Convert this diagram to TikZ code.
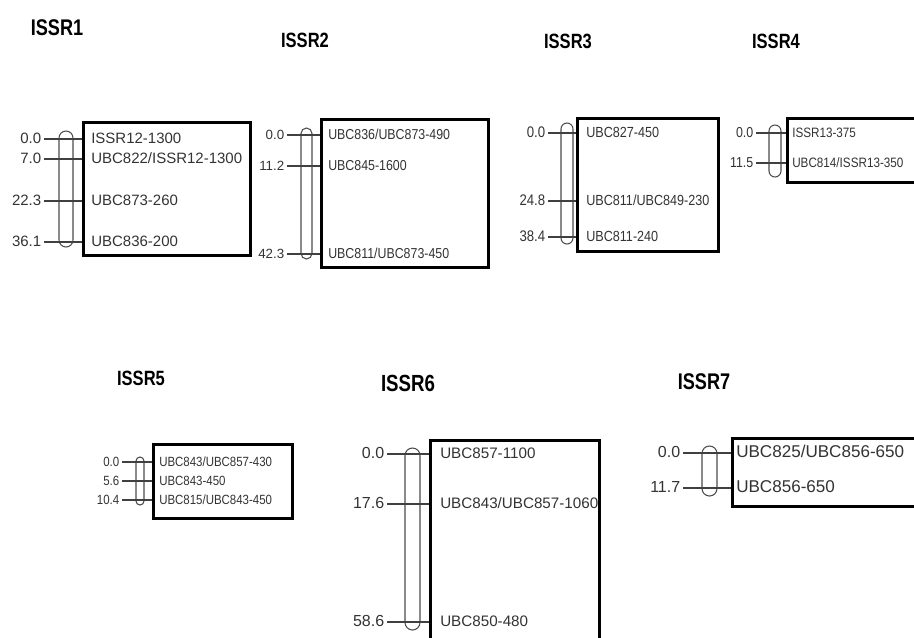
\documentclass[tikz,border=0pt]{standalone}
\usepackage{fontspec}
\setmainfont{Liberation Sans}
\newfontfamily\ttlfont[FakeStretch=0.8]{Liberation Sans}
\newfontfamily\narrowfont[FakeStretch=0.86]{Liberation Sans}
\newlength\pxu
\setlength\pxu{0.75pt}
\tikzset{
  bar/.style={draw=black!70, line width=0.8pt, inner sep=0pt},
  mapbox/.style={draw=black, line width=1.9pt, inner sep=0pt, anchor=north west},
  tick/.style={draw=black!75, line width=0.8pt},
  lab/.style={anchor=west, inner ysep=0pt, text height=0.72em, text depth=0pt, text=black!80},
  num/.style={anchor=east, inner xsep=2.5\pxu, inner ysep=0pt, text height=0.72em, text depth=0pt, text=black!80},
  ttl/.style={text=black, inner sep=0pt}
}
\begin{document}
\begin{tikzpicture}[x=0.75pt,y=-0.75pt]
\useasboundingbox (0,0) rectangle (914,637);
\clip (0,0) rectangle (914,637);

% ---------- titles ----------
\node[ttl, font=\ttlfont\fontsize{17}{20}\selectfont\bfseries] (t1) at (57,28) {ISSR1};
\node[ttl, font=\ttlfont\fontsize{15.5}{18}\selectfont\bfseries] (t2) at (305,40) {ISSR2};
\node[ttl, font=\ttlfont\fontsize{15.5}{18}\selectfont\bfseries] (t3) at (568,41) {ISSR3};
\node[ttl, font=\ttlfont\fontsize{15.5}{18}\selectfont\bfseries] (t4) at (776,41) {ISSR4};
\node[ttl, font=\ttlfont\fontsize{15.5}{18}\selectfont\bfseries] (t5) at (141,378) {ISSR5};
\node[ttl, font=\ttlfont\fontsize{17.5}{20}\selectfont\bfseries] (t6) at (408,383) {ISSR6};
\node[ttl, font=\ttlfont\fontsize{17}{20}\selectfont\bfseries] (t7) at (704,382) {ISSR7};

% ---------- ISSR1 ----------
\node[mapbox, minimum width=167\pxu, minimum height=133\pxu] (m1) at (82,121) {};
\node[bar, minimum width=14\pxu, minimum height=116\pxu, rounded corners=7\pxu] (b1) at (66,189) {};
\begin{scope}[every node/.append style={font=\fontsize{11.25}{13}\selectfont}]
\node[lab, inner xsep=9\pxu] (l1a) at (82,139) {ISSR12-1300};
\node[lab, inner xsep=9\pxu] (l1b) at (82,159) {UBC822/ISSR12-1300};
\node[lab, inner xsep=9\pxu] (l1c) at (82,201) {UBC873-260};
\node[lab, inner xsep=9\pxu] (l1d) at (82,242) {UBC836-200};
\node[num] (n1a) at (44,139) {0.0};
\node[num] (n1b) at (44,159) {7.0};
\node[num] (n1c) at (44,201) {22.3};
\node[num] (n1d) at (44,242) {36.1};
\end{scope}
\foreach \k in {a,b,c,d} \draw[tick] (n1\k.east) -- (l1\k.west);

% ---------- ISSR2 ----------
\node[mapbox, minimum width=167\pxu, minimum height=148\pxu] (m2) at (320,118) {};
\node[bar, minimum width=11\pxu, minimum height=131\pxu, rounded corners=5.5\pxu] (b2) at (306.5,193.5) {};
\begin{scope}[every node/.append style={font=\narrowfont\fontsize{10.8}{12}\selectfont}]
\node[lab, inner xsep=8\pxu] (l2a) at (320,135) {UBC836/UBC873-490};
\node[lab, inner xsep=8\pxu] (l2b) at (320,166) {UBC845-1600};
\node[lab, inner xsep=8\pxu] (l2c) at (320,254) {UBC811/UBC873-450};
\end{scope}
\begin{scope}[every node/.append style={font=\fontsize{10}{12}\selectfont}]
\node[num] (n2a) at (287,135) {0.0};
\node[num] (n2b) at (287,166) {11.2};
\node[num] (n2c) at (287,254) {42.3};
\end{scope}
\foreach \k in {a,b,c} \draw[tick] (n2\k.east) -- (l2\k.west);

% ---------- ISSR3 ----------
\node[mapbox, minimum width=141\pxu, minimum height=133\pxu] (m3) at (576,117) {};
\node[bar, minimum width=12\pxu, minimum height=121\pxu, rounded corners=6\pxu] (b3) at (567,183.5) {};
\begin{scope}[every node/.append style={font=\narrowfont\fontsize{11}{12}\selectfont}]
\node[lab, inner xsep=10\pxu] (l3a) at (576,133) {UBC827-450};
\node[lab, inner xsep=10\pxu] (l3b) at (576,201) {UBC811/UBC849-230};
\node[lab, inner xsep=10\pxu] (l3c) at (576,237) {UBC811-240};
\end{scope}
\begin{scope}[every node/.append style={font=\narrowfont\fontsize{11.5}{13}\selectfont}]
\node[num] (n3a) at (548,133) {0.0};
\node[num] (n3b) at (548,201) {24.8};
\node[num] (n3c) at (548,237) {38.4};
\end{scope}
\foreach \k in {a,b,c} \draw[tick] (n3\k.east) -- (l3\k.west);

% ---------- ISSR4 ----------
\node[mapbox, minimum width=140\pxu, minimum height=64\pxu] (m4) at (786,117) {};
\node[bar, minimum width=12\pxu, minimum height=52\pxu, rounded corners=6\pxu] (b4) at (775,151) {};
\begin{scope}[every node/.append style={font=\narrowfont\fontsize{10.2}{12}\selectfont}]
\node[lab, inner xsep=6\pxu] (l4a) at (786,133) {ISSR13-375};
\node[lab, inner xsep=6\pxu] (l4b) at (786,163) {UBC814/ISSR13-350};
\end{scope}
\begin{scope}[every node/.append style={font=\narrowfont\fontsize{10.8}{12}\selectfont}]
\node[num] (n4a) at (756,133) {0.0};
\node[num] (n4b) at (756,163) {11.5};
\end{scope}
\foreach \k in {a,b} \draw[tick] (n4\k.east) -- (l4\k.west);

% ---------- ISSR5 ----------
\node[mapbox, minimum width=139\pxu, minimum height=74\pxu] (m5) at (152,443) {};
\node[bar, minimum width=8\pxu, minimum height=48\pxu, rounded corners=4\pxu] (b5) at (140,481) {};
\begin{scope}[every node/.append style={font=\narrowfont\fontsize{10}{11}\selectfont}]
\node[lab, inner xsep=7\pxu] (l5a) at (152,462) {UBC843/UBC857-430};
\node[lab, inner xsep=7\pxu] (l5b) at (152,481) {UBC843-450};
\node[lab, inner xsep=7\pxu] (l5c) at (152,500) {UBC815/UBC843-450};
\node[num] (n5a) at (122,462) {0.0};
\node[num] (n5b) at (122,481) {5.6};
\node[num] (n5c) at (122,500) {10.4};
\end{scope}
\foreach \k in {a,b,c} \draw[tick] (n5\k.east) -- (l5\k.west);

% ---------- ISSR6 ----------
\node[mapbox, minimum width=169\pxu, minimum height=221\pxu] (m6) at (429,439) {};
\node[bar, minimum width=15\pxu, minimum height=182\pxu, rounded corners=7.5\pxu] (b6) at (412.5,539) {};
\begin{scope}[every node/.append style={font=\fontsize{11.4}{13}\selectfont}]
\node[lab, inner xsep=11\pxu] (l6a) at (429,454) {UBC857-1100};
\node[lab, inner xsep=11\pxu] (l6b) at (429,504) {UBC843/UBC857-1060};
\node[lab, inner xsep=11\pxu] (l6c) at (429,622) {UBC850-480};
\end{scope}
\begin{scope}[every node/.append style={font=\fontsize{12}{14}\selectfont}]
\node[num] (n6a) at (387,454) {0.0};
\node[num] (n6b) at (387,504) {17.6};
\node[num] (n6c) at (387,622) {58.6};
\end{scope}
\foreach \k in {a,b,c} \draw[tick] (n6\k.east) -- (l6\k.west);

% ---------- ISSR7 ----------
\node[mapbox, minimum width=190\pxu, minimum height=68\pxu] (m7) at (731,437) {};
\node[bar, minimum width=15\pxu, minimum height=50\pxu, rounded corners=7.5\pxu] (b7) at (709.5,471) {};
\begin{scope}[every node/.append style={font=\fontsize{12.8}{14}\selectfont}]
\node[lab, inner xsep=5\pxu] (l7a) at (731,453) {UBC825/UBC856-650};
\node[lab, inner xsep=5\pxu] (l7b) at (731,488) {UBC856-650};
\end{scope}
\begin{scope}[every node/.append style={font=\fontsize{12}{14}\selectfont}]
\node[num] (n7a) at (683,453) {0.0};
\node[num] (n7b) at (683,488) {11.7};
\end{scope}
\foreach \k in {a,b} \draw[tick] (n7\k.east) -- (l7\k.west);
\end{tikzpicture}
\end{document}
